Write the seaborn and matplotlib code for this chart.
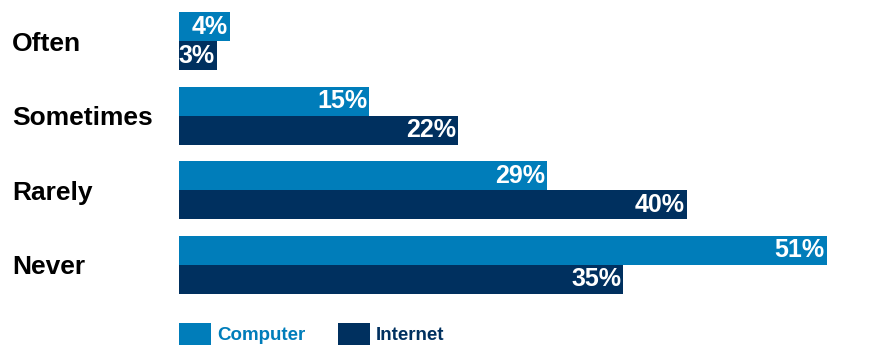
import matplotlib
matplotlib.use("Agg")
import matplotlib.pyplot as plt
from matplotlib.patches import Patch
import seaborn as sns
import pandas as pd

categories = ["Often", "Sometimes", "Rarely", "Never"]
series = ["Computer", "Internet"]
computer = [4, 15, 29, 51]
internet = [3, 22, 40, 35]
colors = ["#007DBA", "#00305F"]

df = pd.DataFrame({
    "category": categories * 2,
    "value": computer + internet,
    "series": [series[0]] * len(categories) + [series[1]] * len(categories),
})

sns.set_theme(style="white")
plt.rcParams["font.family"] = ["Liberation Sans", "DejaVu Sans"]
plt.rcParams["font.weight"] = "bold"

W, H = 880, 347
fig = plt.figure(figsize=(W / 100, H / 100), dpi=100)
ax = fig.add_axes([179 / W, 53 / H, 701 / W, 282 / H])

sns.barplot(data=df, x="value", y="category", hue="series", order=categories,
            hue_order=series, palette=colors, orient="h", width=0.778,
            saturation=1, linewidth=0, ax=ax, legend=False)

ax.set_xlim(0, 55.2)
ax.set_ylim(3.389, -0.389)
for s in ax.spines.values():
    s.set_visible(False)
ax.set_xticks([])
ax.set_xlabel("")
ax.set_ylabel("")
ax.tick_params(axis="y", length=0, pad=120)
for t in ax.get_yticklabels():
    t.set_ha("left")
    t.set_fontsize(19)
    t.set_fontweight("bold")
    t.set_color("black")

for cont in ax.containers:
    texts = ax.bar_label(cont, labels=[f"{int(v)}%" for v in cont.datavalues],
                         label_type="edge", padding=-1.5, color="white",
                         fontsize=18, fontweight="bold")
    for t in texts:
        t.set_ha("right")

handles = [Patch(facecolor=c, edgecolor="none") for c in colors]
leg = fig.legend(handles, series, loc="center left",
                 bbox_to_anchor=(179 / W, (H - 334) / H), ncol=2, frameon=False,
                 fontsize=13.5, handlelength=1.72, handleheight=1.5,
                 handletextpad=0.3, columnspacing=1.75, borderpad=0,
                 borderaxespad=0)
for t, c in zip(leg.get_texts(), colors):
    t.set_color(c)
    t.set_fontweight("bold")

fig.savefig("out.png", dpi=100)
